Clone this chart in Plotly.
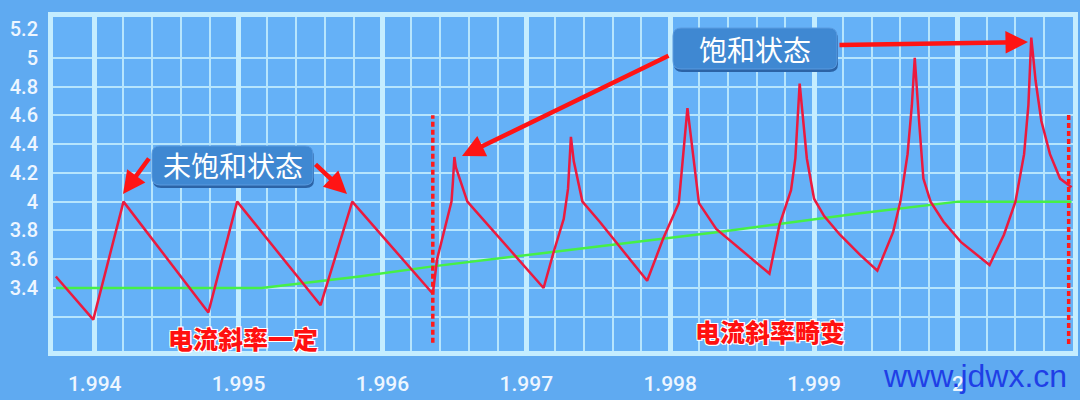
import plotly.graph_objects as go

# ---------------- data ----------------
red_x = [1.99373, 1.99399, 1.99420, 1.99479, 1.99499, 1.99557, 1.99579,
         1.99635, 1.99638, 1.99648, 1.99649, 1.99650, 1.99651, 1.99659,
         1.99712, 1.99719, 1.99726, 1.99729, 1.99731, 1.99733, 1.99739, 1.99751,
         1.99784, 1.99795, 1.99806, 1.99812, 1.99820, 1.99832,
         1.99869, 1.99876, 1.99884, 1.99887, 1.99890, 1.99895, 1.99900, 1.99907, 1.99918, 1.99932,
         1.99944, 1.99955, 1.99960, 1.99965, 1.99968, 1.99970, 1.99973, 1.99976, 1.99981, 1.99990, 2.00002,
         2.00022, 2.00032, 2.00040, 2.00046, 2.00049, 2.00051, 2.00054, 2.00058, 2.00064, 2.00071, 2.00079]
red_y = [3.48, 3.18, 4.00, 3.23, 4.00, 3.28, 4.00,
         3.36, 3.60, 4.00, 4.14, 4.31, 4.24, 4.00,
         3.40, 3.65, 3.88, 4.09, 4.45, 4.28, 4.00, 3.86,
         3.45, 3.74, 3.99, 4.65, 3.99, 3.81,
         3.50, 3.84, 4.08, 4.30, 4.82, 4.30, 4.02, 3.90, 3.77, 3.63,
         3.52, 3.79, 4.00, 4.33, 4.67, 5.00, 4.56, 4.16, 4.00, 3.86, 3.72,
         3.56, 3.77, 4.00, 4.33, 4.67, 5.14, 4.84, 4.56, 4.33, 4.16, 4.10]

green_x = [1.99373, 1.99516, 1.99584, 1.99635, 1.99835, 1.99932, 2.00000, 2.00079]
green_y = [3.40, 3.40, 3.48, 3.55, 3.79, 3.92, 4.00, 4.00]

x_tick_vals = [1.994, 1.995, 1.996, 1.997, 1.998, 1.999, 2.000]
x_tick_text = ["1.994", "1.995", "1.996", "1.997", "1.998", "1.999", "2"]
x_minor_vals = [1.9942, 1.9944, 1.9946, 1.9948, 1.9952, 1.9954, 1.9956, 1.9958,
                1.9962, 1.9964, 1.9966, 1.9968, 1.9972, 1.9974, 1.9976, 1.9978,
                1.9982, 1.9984, 1.9986, 1.9988, 1.9992, 1.9994, 1.9996, 1.9998,
                2.0002, 2.0004, 2.0006]
y_tick_vals = [3.4, 3.6, 3.8, 4.0, 4.2, 4.4, 4.6, 4.8, 5.0, 5.2]
y_tick_text = ["3.4", "3.6", "3.8", "4", "4.2", "4.4", "4.6", "4.8", "5", "5.2"]
y_grid_vals = [3.2, 3.4, 3.6, 3.8, 4.0, 4.2, 4.4, 4.6, 4.8, 5.0]

regime_change_x = 1.99635
end_x = 2.00077

# ---------------- figure ----------------
W, H = 1080, 400
L, R, T, B = 53, 7, 17, 49
PW, PH = W - L - R, H - T - B


def px(x):
    return (x - L) / PW


def py(y):
    return (H - B - y) / PH


GRID = "#b6e5fd"
MAJOR = "#c4edff"

fig = go.Figure()
fig.add_trace(go.Scatter(x=green_x, y=green_y, mode="lines",
                         line=dict(color="#46f046", width=2.5), hoverinfo="skip"))
fig.add_trace(go.Scatter(x=red_x, y=red_y, mode="lines",
                         line=dict(color="#ec1a3e", width=2.5), hoverinfo="skip"))

tickfont = dict(family="Roboto", color="#eef6ff", weight=500)

fig.update_layout(
    width=W, height=H,
    margin=dict(l=L, r=R, t=T, b=B, autoexpand=False),
    paper_bgcolor="#5faaf1",
    plot_bgcolor="#65b1f7",
    showlegend=False,
    xaxis=dict(range=[1.99371, 2.0008], tickvals=x_tick_vals, ticktext=x_tick_text,
               automargin=False,
               showgrid=True, gridcolor=MAJOR, gridwidth=5,
               minor=dict(tickvals=x_minor_vals, showgrid=True, gridcolor=GRID, gridwidth=2),
               showline=True, mirror=True, linecolor=MAJOR, linewidth=5,
               zeroline=False, ticks="", ticklabelstandoff=10,
               tickfont=dict(size=21, **tickfont)),
    yaxis=dict(range=[2.962, 5.283], tickvals=y_tick_vals, ticktext=y_tick_text,
               automargin=False,
               showgrid=False,
               minor=dict(tickvals=y_grid_vals, showgrid=True, gridcolor=GRID, gridwidth=2),
               showline=True, mirror=True, linecolor=MAJOR, linewidth=5,
               zeroline=False, ticks="", ticklabelstandoff=6,
               tickfont=dict(size=20, **tickfont)),
)


def rounded_box(x0, y0, x1, y1, r=8):
    rx, ry = r / PW, r / PH
    a0, a1 = px(x0), px(x1)
    b0, b1 = py(y1), py(y0)  # bottom, top in paper
    return (f"M {a0+rx},{b0} L {a1-rx},{b0} Q {a1},{b0} {a1},{b0+ry} "
            f"L {a1},{b1-ry} Q {a1},{b1} {a1-rx},{b1} L {a0+rx},{b1} "
            f"Q {a0},{b1} {a0},{b1-ry} L {a0},{b0+ry} Q {a0},{b0} {a0+rx},{b0} Z")


shapes = []
for (x0, y0, x1, y1) in [(152, 146, 313, 185), (673, 28, 837, 69)]:
    shapes.append(dict(type="path", xref="paper", yref="paper",
                       path=rounded_box(x0 + 1, y0 + 3, x1 + 1, y1 + 3),
                       fillcolor="#2b63a6", line=dict(width=0)))
    shapes.append(dict(type="path", xref="paper", yref="paper",
                       path=rounded_box(x0, y0, x1, y1),
                       fillcolor="#3f88d2", line=dict(color="#5a9be0", width=1)))

for xv, (ya, yb) in [(regime_change_x, (3.02, 4.60)), (end_x, (3.01, 4.62))]:
    shapes.append(dict(type="line", xref="x", yref="y", x0=xv, x1=xv, y0=ya, y1=yb,
                       layer="above",
                       line=dict(color="#ff1a1a", width=3.5, dash="5px,3px")))

fig.update_layout(shapes=shapes)

ann = []
box_font = dict(family="Noto Sans CJK SC", size=28, color="#ffffff")
ann.append(dict(xref="paper", yref="paper", x=px(232.5), y=py(165), text="未饱和状态",
                showarrow=False, font=box_font, xanchor="center", yanchor="middle"))
ann.append(dict(xref="paper", yref="paper", x=px(755), y=py(48.5), text="饱和状态",
                showarrow=False, font=box_font, xanchor="center", yanchor="middle"))

# arrows: (tail_px, tail_py, tip_px, tip_py)
for (tx, ty, hx, hy) in [(150, 157, 123, 194), (314, 163, 347, 194),
                         (670, 55, 462, 156), (838, 45, 1028, 42)]:
    ann.append(dict(xref="paper", yref="paper", x=px(hx), y=py(hy),
                    ax=tx - hx, ay=ty - hy, axref="pixel", ayref="pixel",
                    text="", showarrow=True, arrowhead=2, arrowsize=1.0,
                    arrowwidth=4.5, arrowcolor="#ff1414", standoff=0))

red_font = dict(family="Noto Sans CJK SC", size=25, color="#ff1010", weight=900,
                shadow="1px 1px 0 #fff, -1px -1px 0 #fff, 1px -1px 0 #fff, -1px 1px 0 #fff")
ann.append(dict(xref="paper", yref="paper", x=px(243), y=py(338), text="电流斜率一定",
                showarrow=False, font=red_font, xanchor="center", yanchor="middle"))
ann.append(dict(xref="paper", yref="paper", x=px(770), y=py(331), text="电流斜率畸变",
                showarrow=False, font=red_font, xanchor="center", yanchor="middle"))

ann.append(dict(xref="paper", yref="paper", x=px(975), y=py(376), text="www.jdwx.cn",
                showarrow=False, font=dict(family="Liberation Sans", size=32, color="#1f3fe6"),
                xanchor="center", yanchor="middle"))

fig.update_layout(annotations=ann)

fig.write_html("out.html", config={"displayModeBar": False},
               post_script="document.body.style.margin='0';document.body.style.overflow='hidden';")
